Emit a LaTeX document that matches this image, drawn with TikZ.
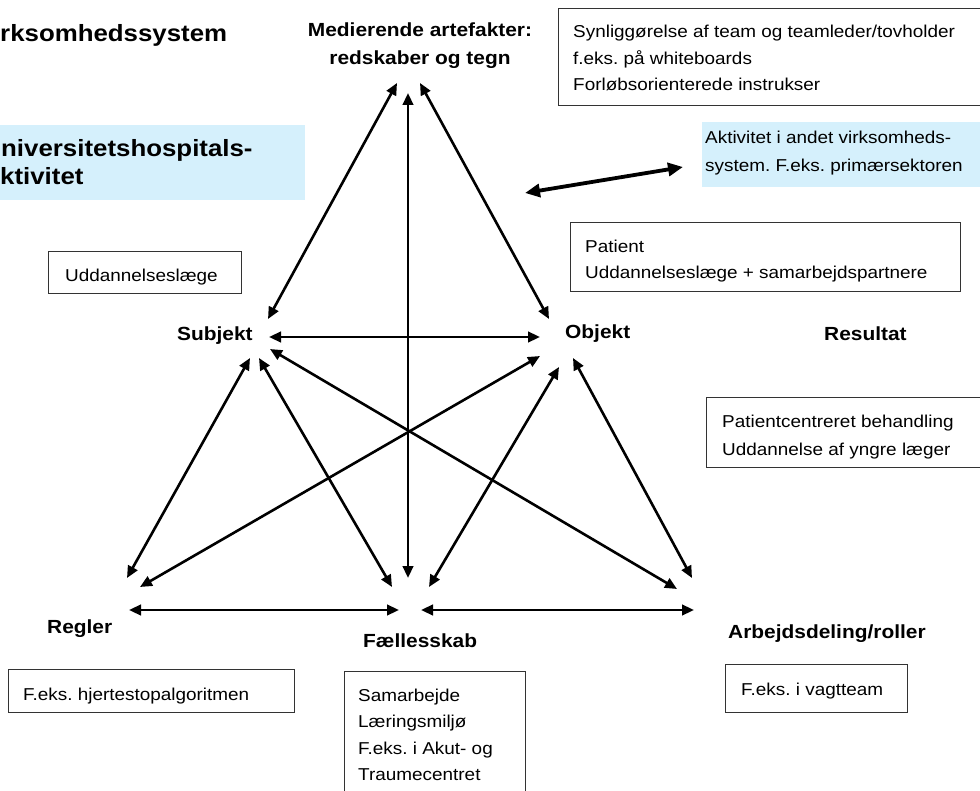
\documentclass[tikz,border=0pt]{standalone}
\usepackage{fontspec}
\setmainfont[FakeStretch=1.1]{Liberation Sans}
\usetikzlibrary{arrows.meta}
\definecolor{lightblue}{RGB}{213,240,252}
\frenchspacing
\begin{document}
\frenchspacing
\begin{tikzpicture}[x=1pt,y=-1pt,
  txt/.style={inner sep=0pt, anchor=base west, font=\fontsize{17.2}{20}\selectfont},
  lbl/.style={inner sep=0pt, anchor=base west, font=\fontsize{19}{22}\selectfont\bfseries},
  ttl/.style={inner sep=0pt, anchor=base west, font=\fontsize{23.5}{28}\selectfont\bfseries},
  box/.style={draw=black!80, line width=1.4pt, inner sep=0pt, anchor=north west},
  bluebox/.style={fill=lightblue, draw=none, inner sep=0pt, anchor=north west},
  link/.style={line width=2.6pt, {Triangle[length=12pt,width=10.5pt]}-{Triangle[length=12pt,width=10.5pt]}},
  biglink/.style={line width=3.8pt, {Triangle[length=15pt,width=13pt]}-{Triangle[length=15pt,width=13pt]}}
]
\useasboundingbox (0,0) rectangle (980,791);

% background boxes
\node[bluebox, minimum width=310pt, minimum height=75pt] (bl) at (-5,125) {};
\node[bluebox, minimum width=285pt, minimum height=65pt] (br) at (702,122) {};
\node[box, minimum width=430pt, minimum height=97pt] (b1) at (558,8) {};
\node[box, minimum width=193pt, minimum height=42pt] (b2) at (48,251) {};
\node[box, minimum width=390pt, minimum height=69pt] (b3) at (570,222) {};
\node[box, minimum width=285pt, minimum height=70pt] (b4) at (706,397) {};
\node[box, minimum width=286pt, minimum height=43pt] (b5) at (8,669) {};
\node[box, minimum width=181pt, minimum height=135pt] (b6) at (344,671) {};
\node[box, minimum width=182pt, minimum height=48pt] (b7) at (725,664) {};

% titles
\node[ttl] (title) at (0,42) {rksomhedssystem};
\node[ttl] (bl1) at (1,157) {niversitetshospitals-};
\node[ttl] (bl2) at (0,185) {ktivitet};

% labels
\node[lbl, anchor=base] (med1) at (420,37) {Medierende artefakter:};
\node[lbl, anchor=base] (med2) at (420,65) {redskaber og tegn};
\node[lbl] (subj) at (177,341) {Subjekt};
\node[lbl] (obj) at (565,339) {Objekt};
\node[lbl] (res) at (824,341) {Resultat};
\node[lbl] (regl) at (47,633) {Regler};
\node[lbl] (faell) at (363,647) {Fællesskab};
\node[lbl] (arb) at (728,638) {Arbejdsdeling/roller};

% box texts
\node[txt] (t1a) at (573,38) {Synliggørelse af team og teamleder/tovholder};
\node[txt] (t1b) at (573,65) {f.eks. på whiteboards};
\node[txt] (t1c) at (573,91) {Forløbsorienterede instrukser};
\node[txt] (t2a) at (705,144) {Aktivitet i andet virksomheds-};
\node[txt] (t2b) at (705,172) {system. F.eks. primærsektoren};
\node[txt] (t3) at (65,282) {Uddannelseslæge};
\node[txt] (t4a) at (585,253) {Patient};
\node[txt] (t4b) at (585,279) {Uddannelseslæge + samarbejdspartnere};
\node[txt] (t5a) at (722,428) {Patientcentreret behandling};
\node[txt] (t5b) at (722,455) {Uddannelse af yngre læger};
\node[txt] (t6) at (23,700) {F.eks. hjertestopalgoritmen};
\node[txt] (t7a) at (358,701) {Samarbejde};
\node[txt] (t7b) at (358,727) {Læringsmiljø};
\node[txt] (t7c) at (358,754) {F.eks. i Akut- og};
\node[txt] (t7d) at (358,780) {Traumecentret};
\node[txt] (t8) at (741,695) {F.eks. i vagtteam};

% arrow end points
\coordinate (mL) at (397,83);
\coordinate (mC) at (408,93);
\coordinate (mR) at (420,83);
\coordinate (sT) at (268,319);
\coordinate (oT) at (549,319);
\coordinate (sR) at (269,337);
\coordinate (oL) at (540,337);
\coordinate (s1) at (250,358);
\coordinate (s2) at (259,358);
\coordinate (s3) at (270,349);
\coordinate (o1) at (540,356);
\coordinate (o2) at (559,367);
\coordinate (o3) at (573,358);
\coordinate (r1) at (127,578);
\coordinate (r2) at (140,587);
\coordinate (f1) at (392,587);
\coordinate (fC) at (408,578);
\coordinate (f2) at (429,587);
\coordinate (a1) at (677,589);
\coordinate (a2) at (692,578);
\coordinate (rH) at (129,610);
\coordinate (fHL) at (399,610);
\coordinate (fHR) at (421,610);
\coordinate (aH) at (694,610);
\coordinate (xL) at (525,193);
\coordinate (xR) at (683,167);

% connectors
\draw[link] (sT) -- (mL);
\draw[link] (fC) -- (mC);
\draw[link] (oT) -- (mR);
\draw[link] (sR) -- (oL);
\draw[link] (s1) -- (r1);
\draw[link] (s2) -- (f1);
\draw[link] (s3) -- (a1);
\draw[link] (o1) -- (r2);
\draw[link] (o2) -- (f2);
\draw[link] (o3) -- (a2);
\draw[link] (rH) -- (fHL);
\draw[link] (fHR) -- (aH);
\draw[biglink] (xL) -- (xR);
\end{tikzpicture}
\end{document}
